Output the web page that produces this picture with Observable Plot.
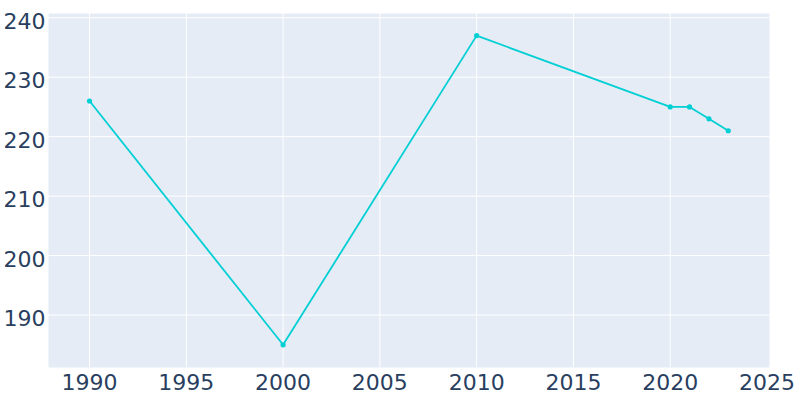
<!DOCTYPE html>
<html>
<head>
<meta charset="utf-8">
<script src="https://cdn.jsdelivr.net/npm/d3@7"></script>
<script src="https://cdn.jsdelivr.net/npm/@observablehq/plot@0.6"></script>
<style>
  html, body { margin: 0; padding: 0; background: #fff; }
  svg { display: block; }
</style>
</head>
<body>
<div id="chart"></div>
<script>
const years = [1990, 2000, 2010, 2020, 2021, 2022, 2023];
const population = [226, 185, 237, 225, 225, 223, 221];
const xTicks = [1990, 1995, 2000, 2005, 2010, 2015, 2020, 2025];
const xGrid = [1990, 1995, 2000, 2005, 2010, 2015, 2020];
const yTicks = [190, 200, 210, 220, 230, 240];

const data = years.map((y, i) => ({year: y, value: population[i]}));

const ink = "#2a3f5f";
const lineColor = "#00cfd4";

const chart = Plot.plot({
  width: 800,
  height: 400,
  marginLeft: 48,
  marginRight: 31,
  marginTop: 13,
  marginBottom: 33,
  style: {fontFamily: "DejaVu Sans, sans-serif", fontSize: "22px", color: ink, background: "#fff"},
  x: {domain: [1987.88, 2025.13], label: null},
  y: {domain: [181.18, 240.72], label: null},
  marks: [
    Plot.frame({fill: "#E5ECF6", stroke: null}),
    Plot.gridX(xGrid, {stroke: "#fff", strokeOpacity: 1, strokeWidth: 1}),
    Plot.gridY(yTicks, {stroke: "#fff", strokeOpacity: 1, strokeWidth: 1}),
    Plot.axisX(xTicks, {tickSize: 0, tickPadding: 7, tickFormat: d => String(d), fontSize: 22, fill: ink, label: null}),
    Plot.axisY(yTicks, {tickSize: 0, tickPadding: 3, dy: 4, fontSize: 22, fill: ink, label: null}),
    Plot.line(data, {x: "year", y: "value", stroke: lineColor, strokeWidth: 1.8}),
    Plot.dot(data, {x: "year", y: "value", fill: lineColor, r: 2.6})
  ]
});
document.getElementById("chart").appendChild(chart);
</script>
</body>
</html>
